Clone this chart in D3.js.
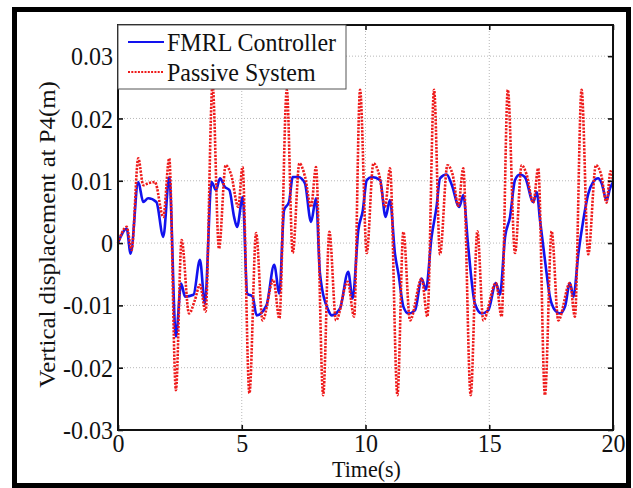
<!DOCTYPE html>
<html>
<head>
<meta charset="utf-8">
<script src="https://cdn.jsdelivr.net/npm/d3@7"></script>
<style>
  body { margin: 0; background: #fff; }
</style>
</head>
<body>
<script>
const width = 633;
const height = 488;
const serif = '"Liberation Serif", "Times New Roman", serif';

// time (s) and displacement (m)
const tFmrl = [0, 0.35, 0.51, 0.82, 1.02, 1.22, 1.55, 1.83, 2.07, 2.34, 2.55, 2.71, 3.05, 3.31, 3.51, 3.78, 3.96, 4.12, 4.32, 4.5, 4.69, 4.81, 5.04, 5.22, 5.44, 5.6, 6.0, 6.31, 6.52, 6.71, 6.91, 7.06, 7.29, 7.55, 7.8, 8.0, 8.16, 8.5, 8.64, 8.97, 9.3, 9.48, 9.71, 9.89, 10.05, 10.25, 10.59, 10.81, 10.99, 11.19, 11.33, 11.53, 11.73, 12.0, 12.27, 12.44, 12.67, 12.87, 13.01, 13.28, 13.48, 13.79, 13.95, 14.15, 14.42, 14.69, 14.96, 15.27, 15.43, 15.64, 15.84, 16.04, 16.24, 16.44, 16.78, 16.92, 17.05, 17.25, 17.45, 17.66, 17.86, 18.06, 18.26, 18.4, 18.6, 18.8, 19.0, 19.2, 19.4, 19.54, 19.74, 19.88, 20];
const yFmrl = [0, 0.0023, -0.0017, 0.0098, 0.0066, 0.0072, 0.0066, 0.001, 0.0106, -0.015, -0.0065, -0.0086, -0.0083, -0.0027, -0.0097, 0.0098, 0.0085, 0.0104, 0.009, 0.0085, 0.0042, 0.0026, 0.0074, -0.0081, -0.0086, -0.0116, -0.01, -0.0035, -0.0081, 0.0053, 0.0066, 0.0106, 0.0106, 0.0096, 0.0034, 0.0072, -0.0049, -0.0108, -0.0116, -0.0105, -0.0046, -0.0089, 0.0021, 0.0052, 0.0101, 0.0106, 0.0101, 0.0042, 0.0069, -0.0017, -0.0049, -0.0102, -0.0113, -0.0108, -0.0057, -0.0075, 0.001, 0.0058, 0.0104, 0.011, 0.0094, 0.0058, 0.0077, -0.0006, -0.0097, -0.0113, -0.0108, -0.0064, -0.0083, 0.001, 0.0042, 0.0101, 0.011, 0.0106, 0.0066, 0.0082, 0.0037, -0.0027, -0.0086, -0.0108, -0.0113, -0.0102, -0.0064, -0.0086, -0.0017, 0.0037, 0.0079, 0.0098, 0.0104, 0.0096, 0.0069, 0.0088, 0.0098];

const tPassive = [0, 0.35, 0.55, 0.82, 1.02, 1.22, 1.49, 1.83, 2.07, 2.34, 2.57, 2.87, 3.11, 3.31, 3.54, 3.82, 4.08, 4.35, 4.57, 4.86, 5.03, 5.31, 5.58, 5.84, 6.28, 6.52, 6.82, 7.06, 7.33, 7.56, 7.8, 8.0, 8.29, 8.54, 8.81, 9.28, 9.54, 9.78, 10.05, 10.32, 10.55, 10.79, 10.99, 11.29, 11.53, 11.8, 12.27, 12.5, 12.77, 13.01, 13.31, 13.52, 13.75, 13.95, 14.25, 14.52, 14.76, 15.27, 15.5, 15.75, 16.04, 16.31, 16.51, 16.78, 16.98, 17.25, 17.52, 17.79, 18.26, 18.46, 18.73, 19.0, 19.31, 19.52, 19.74, 19.9, 20];
const yPassive = [0, 0.0026, -0.0011, 0.0136, 0.0093, 0.0096, 0.0098, 0.0042, 0.0136, -0.0236, 0.0005, -0.0113, -0.0091, -0.0067, -0.011, 0.0254, -0.0009, 0.0125, 0.011, 0.0058, 0.0122, -0.0241, 0.0016, -0.0124, -0.0059, -0.0121, 0.0246, -0.0016, 0.0128, 0.0106, 0.0058, 0.0122, -0.0244, 0.0018, -0.0124, -0.0062, -0.0118, 0.0246, -0.0016, 0.0128, 0.011, 0.0058, 0.012, -0.0244, 0.0018, -0.0124, -0.0057, -0.0118, 0.0246, -0.0018, 0.0125, 0.011, 0.006, 0.012, -0.0244, 0.0019, -0.0124, -0.0064, -0.0118, 0.0246, -0.0016, 0.0125, 0.011, 0.0065, 0.012, -0.0244, 0.0019, -0.0124, -0.0064, -0.0118, 0.0246, -0.0018, 0.0125, 0.011, 0.0065, 0.0115, 0.01];

const xTicks = [0, 5, 10, 15, 20];
const yTicks = [-0.03, -0.02, -0.01, 0, 0.01, 0.02, 0.03];
const yTickLabels = ["-0.03", "-0.02", "-0.01", "0", "0.01", "0.02", "0.03"];
const legendLabels = ["FMRL Controller", "Passive System"];

const margin = { top: 25, right: 20, bottom: 58, left: 118 };
const stretch = 1.08; // the source image is a bit taller than wide

const svg = d3.select("body").append("svg")
  .attr("width", width)
  .attr("height", height);

// outer black frame
svg.append("rect")
  .attr("x", 14.5).attr("y", 9.5)
  .attr("width", 614).attr("height", 476)
  .attr("fill", "white")
  .attr("stroke", "black")
  .attr("stroke-width", 5);

const x = d3.scaleLinear().domain([0, 20]).range([margin.left, width - margin.right]);
const y = d3.scaleLinear().domain([-0.03, 0.035]).range([height - margin.bottom, margin.top]);

const x0 = x.range()[0], x1 = x.range()[1];
const y0 = y.range()[0], y1 = y.range()[1];

// dotted grid
const grid = svg.append("g")
  .attr("stroke", "#b8b8b8")
  .attr("stroke-width", 1)
  .attr("stroke-dasharray", "1,2");

grid.selectAll(".gx")
  .data(xTicks.slice(1, -1))
  .join("line")
  .attr("x1", (d) => x(d)).attr("x2", (d) => x(d))
  .attr("y1", y1).attr("y2", y0);

grid.selectAll(".gy")
  .data(yTicks.slice(1))
  .join("line")
  .attr("x1", x0).attr("x2", x1)
  .attr("y1", (d) => y(d)).attr("y2", (d) => y(d));

// lines
const line = (ts, vs) => d3.line()
  .x((d, i) => x(ts[i]))
  .y((d) => y(d))
  .curve(d3.curveMonotoneX)(vs);

svg.append("path")
  .attr("d", line(tFmrl, yFmrl))
  .attr("fill", "none")
  .attr("stroke", "#1212ee")
  .attr("stroke-width", 2.6)
  .attr("stroke-linejoin", "round");

svg.append("path")
  .attr("d", line(tPassive, yPassive))
  .attr("fill", "none")
  .attr("stroke", "#ee1a1a")
  .attr("stroke-width", 2.6)
  .attr("stroke-dasharray", "2.2,1.3");

// axes: ticks point inward, on all four sides
const xAxis = svg.append("g")
  .attr("transform", `translate(0,${y0})`)
  .call(d3.axisBottom(x).tickValues(xTicks).tickSize(-5).tickFormat(d3.format("d")));

const yAxis = svg.append("g")
  .attr("transform", `translate(${x0},0)`)
  .call(d3.axisLeft(y).tickValues(yTicks).tickSize(-5).tickFormat((d, i) => yTickLabels[i]));

svg.append("g")
  .attr("transform", `translate(0,${y1})`)
  .call(d3.axisTop(x).tickValues(xTicks).tickSize(-5).tickFormat(""));

svg.append("g")
  .attr("transform", `translate(${x1},0)`)
  .call(d3.axisRight(y).tickValues(yTicks).tickSize(-5).tickFormat(""));

svg.selectAll(".domain").remove();
svg.selectAll(".tick line").attr("stroke", "#111").attr("stroke-width", 1.6);

xAxis.selectAll("text")
  .attr("y", 22 / stretch)
  .attr("dy", 0)
  .attr("transform", `scale(1,${stretch})`)
  .attr("fill", "#111")
  .style("font-family", serif)
  .style("font-size", "24px");

yAxis.selectAll("text")
  .attr("x", -5)
  .attr("dy", "0.33em")
  .attr("transform", `scale(1,${stretch})`)
  .attr("fill", "#111")
  .style("font-family", serif)
  .style("font-size", "24px");

// axes box
svg.append("rect")
  .attr("x", x0).attr("y", y1)
  .attr("width", x1 - x0).attr("height", y0 - y1)
  .attr("fill", "none")
  .attr("stroke", "#111")
  .attr("stroke-width", 2);

// axis titles
svg.append("text")
  .attr("transform", `translate(${(x0 + x1) / 2 + 1},477) scale(1,${stretch})`)
  .attr("text-anchor", "middle")
  .attr("fill", "#111")
  .style("font-family", serif)
  .style("font-size", "22px")
  .text("Time(s)");

svg.append("text")
  .attr("transform", `translate(55,${(y0 + y1) / 2 + 7}) rotate(-90) scale(${stretch},1)`)
  .attr("text-anchor", "middle")
  .attr("fill", "#111")
  .style("font-family", serif)
  .style("font-size", "23px")
  .text("Vertical displacement at P4(m)");

// legend
const legend = svg.append("g");
legend.append("rect")
  .attr("x", x0).attr("y", y1)
  .attr("width", 228).attr("height", 64)
  .attr("fill", "white")
  .attr("stroke", "#555")
  .attr("stroke-width", 1);

const items = legend.selectAll("g")
  .data(legendLabels)
  .join("g")
  .attr("transform", (d, i) => `translate(${x0},${y1 + 17 + i * 30})`);

items.append("line")
  .attr("x1", 10).attr("x2", 46)
  .attr("stroke", (d, i) => i === 0 ? "#1212ee" : "#ee1a1a")
  .attr("stroke-width", (d, i) => i === 0 ? 2.2 : 2)
  .attr("stroke-dasharray", (d, i) => i === 0 ? null : "2,1.3");

items.append("text")
  .attr("x", 49)
  .attr("transform", `scale(1,${stretch})`)
  .attr("y", 9 / stretch)
  .attr("fill", "#111")
  .style("font-family", serif)
  .style("font-size", "24px")
  .text((d) => d);
</script>
</body>
</html>
